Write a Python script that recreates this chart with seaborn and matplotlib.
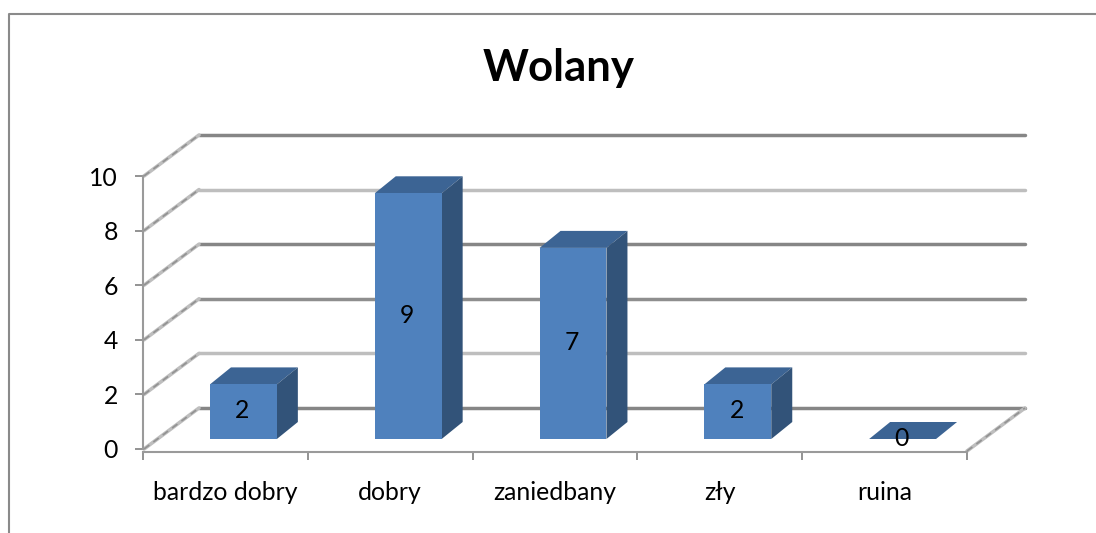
import matplotlib
matplotlib.use("Agg")
import matplotlib.pyplot as plt
import seaborn as sns
import pandas as pd
from matplotlib.patches import Polygon
from matplotlib.lines import Line2D
from matplotlib.transforms import IdentityTransform

categories = ["bardzo dobry", "dobry", "zaniedbany", "zły", "ruina"]
values = [2, 9, 7, 2, 0]
y_ticks = [0, 2, 4, 6, 8, 10]

W, H = 1096, 533
FRONT = "#4F81BD"
TOP = "#3C6494"
SIDE = "#325379"
AXIS = "#9A9A9A"

sns.set_theme(style="white")
plt.rcParams["font.family"] = ["Lato", "DejaVu Sans"]

df = pd.DataFrame({"stan": categories, "ile": values})

fig = plt.figure(figsize=(W / 100, H / 100), dpi=100)
ax = fig.add_axes([143 / W, (H - 449) / H, 824 / W, 273 / H])
ax.patch.set_alpha(0)

sns.barplot(data=df, x="stan", y="ile", color=FRONT, saturation=1, width=0.406, ax=ax, zorder=3)
ax.set_xlim(-0.5, 4.5)
ax.set_ylim(0, 10)
ax.set_xlabel("")
ax.set_ylabel("")
ax.set_yticks(y_ticks)


def px(x, y, dx=0, dy=0):
    # data position to screen pixels, plus an offset for the fake 3D depth
    sx, sy = ax.transData.transform((x, y))
    return (sx + dx, sy + dy)


def poly(points, color, z):
    ax.add_patch(Polygon(points, closed=True, facecolor=color, edgecolor="none",
                         transform=IdentityTransform(), clip_on=False, zorder=z))


def side_line(a, b):
    ax.add_line(Line2D([a[0], b[0]], [a[1], b[1]], color="#BEBEBE", lw=2.6,
                       transform=IdentityTransform(), clip_on=False, zorder=1))
    ax.add_line(Line2D([a[0], b[0]], [a[1], b[1]], color="#929292", lw=1.2, ls=(0, (4, 3)),
                       transform=IdentityTransform(), clip_on=False, zorder=1))


# back wall and side wall lines
wall_colors = ["#868686", "#BEBEBE", "#8E8E8E", "#868686", "#BEBEBE", "#868686"]
for t, c in zip(y_ticks, wall_colors):
    a = px(-0.5, t, 1, 0)
    b = px(-0.5, t, 56, 41)
    e = px(4.5, t, 58, 41)
    ax.add_line(Line2D([b[0], e[0]], [b[1], e[1]], color=c, lw=2.5,
                       transform=IdentityTransform(), clip_on=False, zorder=1))
    side_line(a, b)
# floor edge on the right
side_line(px(4.5, 0, 0, -2), px(4.5, 0, 58, 41))

# bars sit inside the floor depth, so shift them and add top and side faces
OFF_X, OFF_Y = 18, 10
DEPTH_X, DEPTH_Y = 21, 17
for i, (bar, v) in enumerate(zip(ax.patches[:len(values)], values)):
    x0 = bar.get_x()
    x1 = x0 + bar.get_width()
    fl = px(x0, 0, OFF_X, OFF_Y)
    fr = px(x1, 0, OFF_X, OFF_Y)
    tl = px(x0, v, OFF_X, OFF_Y)
    tr = px(x1, v, OFF_X, OFF_Y)
    bar.set_visible(False)
    poly([fl, fr, tr, tl], FRONT, 4)
    poly([tl, tr, (tr[0] + DEPTH_X, tr[1] + DEPTH_Y), (tl[0] + DEPTH_X, tl[1] + DEPTH_Y)], TOP, 3)
    poly([fr, tr, (tr[0] + DEPTH_X, tr[1] + DEPTH_Y), (fr[0] + DEPTH_X, fr[1] + DEPTH_Y)], SIDE, 3)
    lx, ly = px(i, v / 2, OFF_X - 1, OFF_Y + 1)
    ax.text(lx, ly, str(v), ha="center", va="center", fontsize=17.8, color="black",
            transform=IdentityTransform(), zorder=6)

sns.despine(ax=ax, top=True, right=True)
for s in ["left", "bottom"]:
    ax.spines[s].set_color(AXIS)
    ax.spines[s].set_linewidth(1.5)
    ax.spines[s].set_zorder(5)
ax.spines["bottom"].set_position(("outward", 2))

ax.set_xticks([-0.5, 0.5, 1.5, 2.5, 3.5, 4.5])
ax.set_xticklabels([])
ax.set_xticks(range(5), minor=True)
ax.set_xticklabels(categories, minor=True)
ax.tick_params(axis="x", which="major", length=6, width=1.2, color="#808080", bottom=True)
ax.tick_params(axis="x", which="minor", length=0, pad=21, labelsize=17.8, labelcolor="black")
ax.tick_params(axis="y", length=6, width=1.2, color="#808080", left=True, pad=12,
               labelsize=17.8, labelcolor="black")

fig.text(559 / W, (H - 68) / H, "Wolany", ha="center", va="center", fontsize=31.5,
         fontweight="bold", color="black")

# outer chart frame, only left and top edges are inside the picture
frame = [(8.5, H), (8.5, 14), (W, 14)]
fig.add_artist(Line2D([p[0] / W for p in frame], [1 - p[1] / H for p in frame],
                      color="#8A8A8A", lw=1.5, transform=fig.transFigure))

fig.savefig("out.png", dpi=100, facecolor="white")
